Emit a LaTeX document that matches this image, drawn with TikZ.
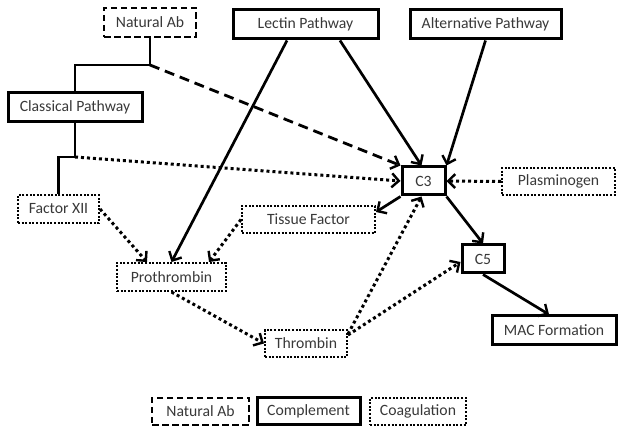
\documentclass[tikz,border=0pt]{standalone}
\usepackage{fontspec}
\setmainfont{Carlito}
\usetikzlibrary{arrows.meta,calc}
\definecolor{txt}{HTML}{383838}
\tikzset{
  box/.style={draw=black, rectangle, inner sep=0pt, text=txt, font=\fontsize{15.7}{18}\selectfont},
  compbox/.style={box, line width=3pt},
  abbox/.style={box, line width=2.8pt, dash pattern=on 6.5pt off 3.5pt},
  coagbox/.style={box, line width=2pt, dash pattern=on 2pt off 1.6pt},
  tip/.style={-{Straight Barb[length=7pt,width=14pt,line width=2.4pt]}},
  solidc/.style={line width=2.7pt, tip},
  dottedc/.style={line width=3pt, dash pattern=on 3pt off 3pt, tip},
  dashedc/.style={line width=2.8pt, dash pattern=on 10pt off 6pt, tip},
  plainc/.style={line width=2.8pt}
}
\begin{document}
\begin{tikzpicture}[x=1pt,y=-1pt]
\useasboundingbox (0,0) rectangle (624,435);
% nodes
\node[abbox, minimum width=92pt, minimum height=29pt] (natab) at (150,22.5) {Natural Ab};
\node[compbox, minimum width=145pt, minimum height=29pt] (lectin) at (305.5,24.5) {Lectin Pathway};
\node[compbox, minimum width=151pt, minimum height=29pt] (alt) at (485.5,24.5) {Alternative Pathway};
\node[compbox, minimum width=134pt, minimum height=29pt] (classical) at (75,107.5) {Classical Pathway};
\node[coagbox, minimum width=81pt, minimum height=28pt] (fxii) at (58.5,209) {Factor XII};
\node[coagbox, minimum width=133pt, minimum height=27pt] (tissue) at (308.5,219.5) {Tissue Factor};
\node[coagbox, minimum width=109pt, minimum height=28pt] (proth) at (171.5,277) {Prothrombin};
\node[coagbox, minimum width=82pt, minimum height=27pt] (thromb) at (306,343.5) {Thrombin};
\node[compbox, minimum width=43pt, minimum height=28pt] (c3) at (423.5,181) {C3};
\node[coagbox, minimum width=113pt, minimum height=27pt] (plasm) at (558.5,181.5) {Plasminogen};
\node[compbox, minimum width=42pt, minimum height=28pt] (c5) at (483,259) {C5};
\node[compbox, minimum width=124pt, minimum height=29pt] (mac) at (554,330.5) {MAC Formation};
% legend
\node[abbox, minimum width=97pt, minimum height=27pt] (lgab) at (200.5,411.5) {Natural Ab};
\node[compbox, minimum width=103pt, minimum height=27pt] (lgcomp) at (308.5,411.5) {Complement};
\node[coagbox, minimum width=96pt, minimum height=27pt] (lgcoag) at (418,411.5) {Coagulation};
% junctions
\coordinate (j1) at (150,65);
\coordinate (j2) at (75,65);
\coordinate (j3) at (75,157);
\coordinate (j4) at (58.5,157);
% connectors
\draw[plainc] (natab.south) -- (j1) -- (j2) -- (classical.north);
\draw[dashedc] (j1) -- (c3.north west);
\draw[plainc] (classical.south) -- (j3) -- (j4) -- (fxii.north);
\draw[dottedc] (j3) -- (c3.west);
\draw[solidc] ($(lectin.south)+(-18.5,0)$) -- (proth.north);
\draw[solidc] ($(lectin.south)+(34.5,0)$) -- ($(c3.north)+(-2,0)$);
\draw[solidc] (alt.south) -- (c3.north east);
\draw[dottedc] (plasm.west) -- (c3.east);
\draw[solidc] (c3.south west) -- ($(tissue.north east)+(0,7)$);
\draw[solidc] (c3.south east) -- (c5.north);
\draw[solidc] (c5.south) -- ($(mac.north)+(-5,0)$);
\draw[dottedc] (fxii.east) -- ($(proth.north west)+(31,0)$);
\draw[dottedc] (tissue.west) -- ($(proth.north east)+(-18,0)$);
\draw[dottedc] (proth.south) -- (thromb.west);
\draw[dottedc] ($(thromb.north east)+(0,5)$) -- ($(c3.south)+(-2,0)$);
\draw[dottedc] ($(thromb.north east)+(0,6)$) -- ($(c5.west)+(0,3)$);
\end{tikzpicture}
\end{document}
